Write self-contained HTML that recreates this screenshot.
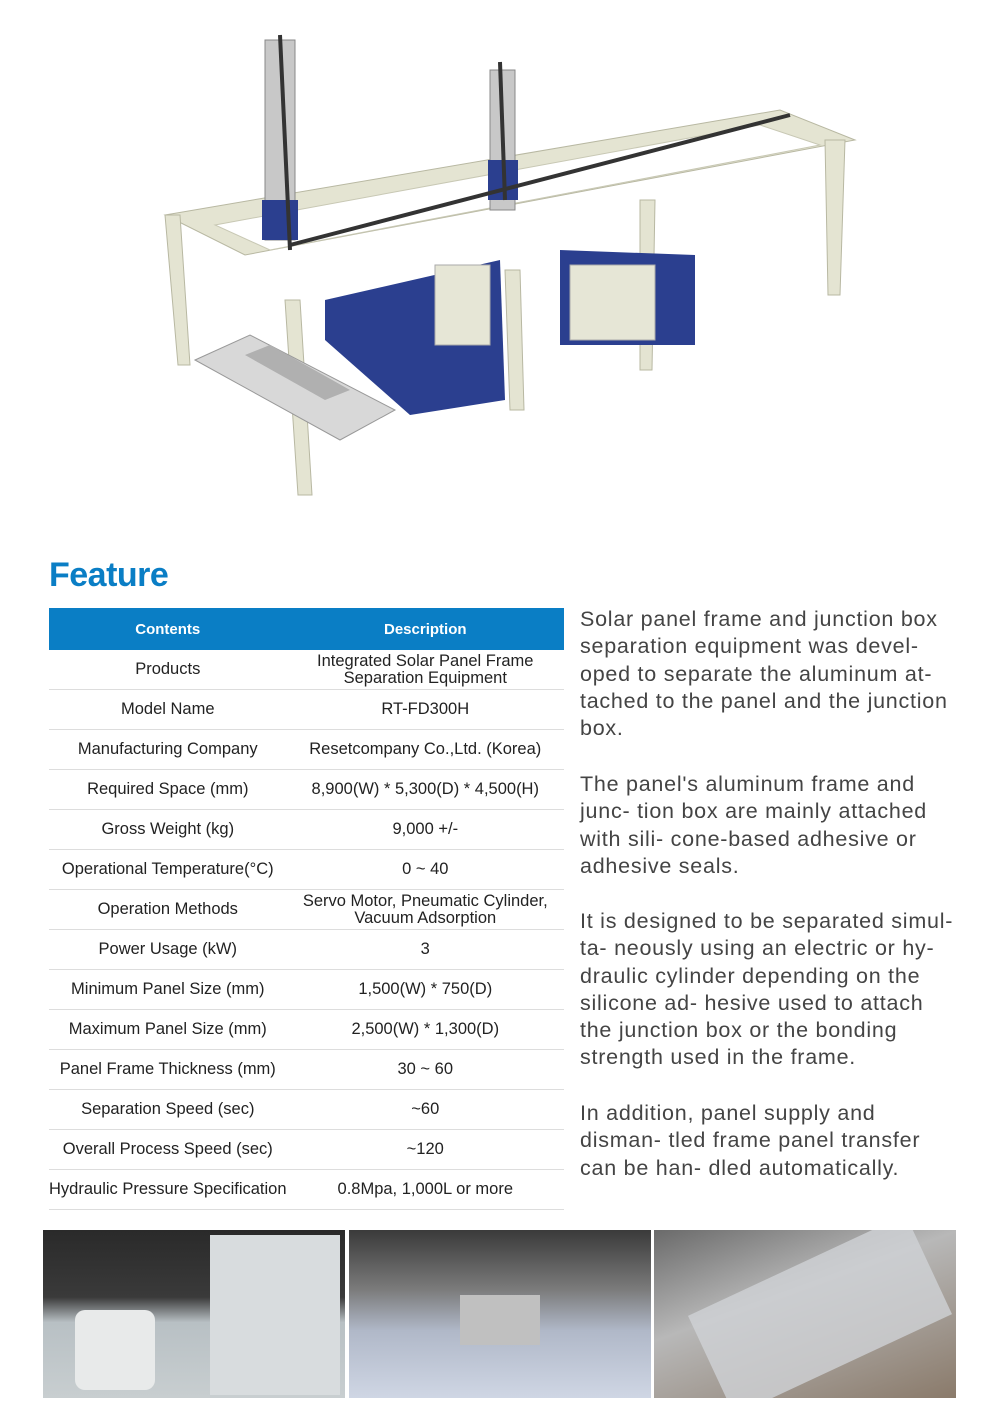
<!DOCTYPE html>
<html><head><meta charset="utf-8"><style>
body{margin:0;width:1000px;height:1405px;background:#fff;position:relative;font-family:"Liberation Sans","Noto Sans CJK KR",sans-serif;overflow:hidden}
.abs{position:absolute}
h1{position:absolute;left:49px;top:556px;margin:0;font-size:34px;color:#0a7ec5;font-weight:bold;letter-spacing:-0.5px}
table{position:absolute;left:49px;top:608px;width:515px;border-collapse:collapse;font-size:16.5px;color:#222}
th{background:#0a7ec5;color:#fff;height:40px;font-weight:bold;font-size:15px}
td{height:39px;border-bottom:1px solid #ddd;text-align:center;line-height:17px;padding:0}
td:first-child{width:237px}
.txt{left:580px;font-size:21.5px;line-height:27.3px;color:#444;white-space:nowrap;letter-spacing:0.75px}
.ph{top:1230px;height:168px;width:302px;overflow:hidden}
</style></head><body>
<svg class="abs" style="left:0;top:0" width="1000" height="540">
 <g fill="#e4e4d2" stroke="#b8b8a2" stroke-width="1">
  <polygon points="165,215 780,110 855,140 245,255"/>
  <polygon points="165,215 180,215 190,365 178,365"/>
  <polygon points="285,300 300,300 312,495 298,495"/>
  <polygon points="505,270 520,270 524,410 510,410"/>
  <polygon points="825,140 845,140 840,295 828,295"/>
  <polygon points="640,200 655,200 652,370 640,370"/>
 </g>
 <g fill="#fff" stroke="#c8c8b4"><polygon points="215,225 760,125 820,145 270,250"/></g>
 <polygon points="195,360 250,335 395,410 340,440" fill="#d8d8d8" stroke="#999"/>
 <polygon points="245,355 270,345 350,390 325,400" fill="#b0b0b0"/>
 <polygon points="325,300 500,260 505,400 410,415 325,340" fill="#2b3f8f"/>
 <polygon points="560,250 695,255 695,345 560,345" fill="#2b3f8f"/>
 <rect x="435" y="265" width="55" height="80" fill="#e6e6d6" stroke="#aaa"/>
 <rect x="570" y="265" width="85" height="75" fill="#e6e6d6" stroke="#aaa"/>
 <g fill="#c8c8c8" stroke="#888"><rect x="265" y="40" width="30" height="200"/><rect x="490" y="70" width="25" height="140"/></g>
 <g fill="#2b3f8f"><rect x="262" y="200" width="36" height="40"/><rect x="488" y="160" width="30" height="40"/></g>
 <g stroke="#333" stroke-width="4" fill="none"><path d="M280,35 L290,250"/><path d="M500,62 L505,200"/><path d="M290,245 L790,115"/></g>
</svg>
<h1>Feature</h1>
<table>
<tr><th>Contents</th><th>Description</th></tr>
<tr><td>Products</td><td>Integrated Solar Panel Frame<br>Separation Equipment</td></tr>
<tr><td>Model Name</td><td>RT-FD300H</td></tr>
<tr><td>Manufacturing Company</td><td>Resetcompany Co.,Ltd. (Korea)</td></tr>
<tr><td>Required Space (mm)</td><td>8,900(W) * 5,300(D) * 4,500(H)</td></tr>
<tr><td>Gross Weight (kg)</td><td>9,000 +/-</td></tr>
<tr><td>Operational Temperature(°C)</td><td>0 ~ 40</td></tr>
<tr><td>Operation Methods</td><td>Servo Motor, Pneumatic Cylinder,<br>Vacuum Adsorption</td></tr>
<tr><td>Power Usage (kW)</td><td>3</td></tr>
<tr><td>Minimum Panel Size (mm)</td><td>1,500(W) * 750(D)</td></tr>
<tr><td>Maximum Panel Size (mm)</td><td>2,500(W) * 1,300(D)</td></tr>
<tr><td>Panel Frame Thickness (mm)</td><td>30 ~ 60</td></tr>
<tr><td>Separation Speed (sec)</td><td>~60</td></tr>
<tr><td>Overall Process Speed (sec)</td><td>~120</td></tr>
<tr><td style="white-space:nowrap">Hydraulic Pressure Specification</td><td>0.8Mpa, 1,000L or more</td></tr>
</table>
<div class="abs txt" style="top:606px">Solar panel frame and junction box<br>separation equipment was devel-<br>oped to separate the aluminum at-<br>tached to the panel and the junction<br>box.</div>
<div class="abs txt" style="top:771px">The panel's aluminum frame and<br>junc- tion box are mainly attached<br>with sili- cone-based adhesive or<br>adhesive seals.</div>
<div class="abs txt" style="top:908px">It is designed to be separated simul-<br>ta- neously using an electric or hy-<br>draulic cylinder depending on the<br>silicone ad- hesive used to attach<br>the junction box or the bonding<br>strength used in the frame.</div>
<div class="abs txt" style="top:1100px">In addition, panel supply and<br>disman- tled frame panel transfer<br>can be han- dled automatically.</div>
<div class="abs ph" style="left:43px;background:linear-gradient(180deg,#2a2a2a 0%,#3a3a3a 40%,#b8c0c4 55%,#c8ced0 100%)">
 <div class="abs" style="left:167px;top:5px;width:130px;height:160px;background:#d8dcde"></div>
 <div class="abs" style="left:32px;top:80px;width:80px;height:80px;background:#e8eaea;border-radius:10px"></div>
</div>
<div class="abs ph" style="left:349px;background:linear-gradient(180deg,#3a3a3a 0%,#7a7a7a 35%,#b0b8c8 60%,#cfd6e4 100%)">
 <div class="abs" style="left:111px;top:65px;width:80px;height:50px;background:#c0c0c0"></div>
</div>
<div class="abs ph" style="left:654px;background:linear-gradient(160deg,#6a6a6a 0%,#b8b8b8 40%,#8a7a6a 100%)">
 <div class="abs" style="left:46px;top:30px;width:240px;height:110px;background:#cfd2d6;transform:rotate(-25deg);opacity:.8"></div>
</div>
</body></html>
